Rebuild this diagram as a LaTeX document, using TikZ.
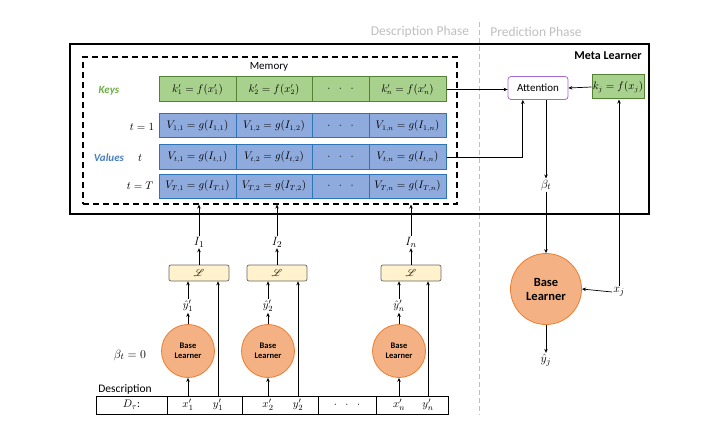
\documentclass[tikz,border=0pt]{standalone}
\usepackage{fontspec}
\setmainfont{Carlito}
\usepackage{amsmath}
\usepackage{amssymb}
\usepackage{mathrsfs}
\usetikzlibrary{calc,backgrounds,arrows.meta}
\definecolor{keyfill}{HTML}{A9D18E}
\definecolor{keyline}{HTML}{548235}
\definecolor{valfill}{HTML}{8FAADC}
\definecolor{valline}{HTML}{2E75B6}
\definecolor{blfill}{HTML}{F4B183}
\definecolor{blline}{HTML}{ED7D31}
\definecolor{lossfill}{HTML}{FFF2CC}
\definecolor{attline}{HTML}{A66BD3}
\definecolor{keytext}{HTML}{70AD47}
\definecolor{valtext}{HTML}{4A7EBB}
\definecolor{phasegray}{HTML}{BFBFBF}
\tikzstyle{lbl}=[
  inner sep=1pt, font=\fontsize{11}{13}\selectfont
]
\tikzstyle{biglbl}=[
  inner sep=1pt, font=\fontsize{12.5}{14}\selectfont
]
\tikzstyle{keycell}=[
  draw=keyline, fill=keyfill, line width=1pt, minimum height=25pt, inner sep=0pt,
  font=\fontsize{10.5}{12}\selectfont
]
\tikzstyle{valcell}=[
  draw=valline, fill=valfill, line width=1pt, minimum height=24pt, inner sep=0pt,
  font=\fontsize{10.5}{12}\selectfont
]
\tikzstyle{baselearner}=[
  draw=blline, fill=blfill, circle, line width=0.8pt, minimum size=53pt, inner sep=0pt,
  align=center, font=\bfseries\fontsize{8.5}{9.5}\selectfont
]
\tikzstyle{bigbaselearner}=[
  baselearner, minimum size=71pt, font=\bfseries\fontsize{12.5}{14}\selectfont
]
\tikzstyle{loss}=[
  draw=gray!80!black, fill=lossfill, rounded corners=2pt, minimum width=60pt,
  minimum height=16pt, inner sep=0pt, line width=0.7pt
]
\tikzstyle{attn}=[
  draw=attline, fill=white, rounded corners=3pt, minimum width=60pt, minimum height=23pt,
  inner sep=0pt, line width=0.8pt, font=\fontsize{11}{13}\selectfont
]
\tikzstyle{dcell}=[
  draw, line width=0.6pt, minimum height=18pt, inner sep=0pt, font=\fontsize{11}{13}\selectfont
]
\tikzstyle{phase}=[
  text=phasegray, inner sep=1pt, font=\fontsize{13.5}{15}\selectfont
]
\tikzstyle{phasesep}=[
  draw=phasegray, line width=1pt, dash pattern=on 5pt off 3pt
]
\tikzstyle{flow}=[
  -{Stealth[length=4pt,width=3.5pt]}, line width=0.7pt
]

\begin{document}
\begin{tikzpicture}[x=1pt,y=-1pt]
  \useasboundingbox (0,0) rectangle (712,433);
  % phases
  \node (desc) at (420,32) [phase] {Description Phase};
  \node (pred) at (536,32) [phase] {Prediction Phase};
  \coordinate (divtop) at (479,22);
  \coordinate (divbot) at (479,415);
  \draw [phasesep] (divtop) -- (divbot);

  % meta learner and memory
  \node (meta) at (359.5,129) [draw, line width=1.2pt, minimum width=579pt, minimum height=170pt] {};
  \node (metalbl) at (608,56) [inner sep=1pt, font=\bfseries\fontsize{12}{14}\selectfont] {Meta Learner};
  \node (mem) at (270,130.5) [draw, line width=1.2pt, dash pattern=on 6pt off 4pt, minimum width=374pt, minimum height=147pt] {};
  \node (memlbl) at (269,67) [lbl] {Memory};

  \node (keys) at (109,91) [lbl, text=keytext, font=\bfseries\itshape\fontsize{11}{13}\selectfont] {Keys};
  \node (values) at (109,158) [lbl, text=valtext, font=\bfseries\itshape\fontsize{11}{13}\selectfont] {Values};
  \node (t1) at (142,127) [lbl] {$t = 1$};
  \node (tt) at (140,158) [lbl] {$t$};
  \node (tT) at (140,186) [lbl] {$t = T$};

  \node (k1) at (197.5,89.5) [keycell, minimum width=77pt] {$k'_1 = f(x'_1)$};
  \node (k2) at (274,89.5) [keycell, minimum width=76pt] {$k'_2 = f(x'_2)$};
  \node (kd) at (340.5,89.5) [keycell, minimum width=57pt] {$\cdot\;\;\cdot\;\;\cdot$};
  \node (kn) at (407.5,89.5) [keycell, minimum width=77pt] {$k'_n = f(x'_n)$};

  \foreach \r/\y in {1/126, t/157, T/186} {
    \node (v\r1) at (197.5,\y) [valcell, minimum width=77pt] {$V_{\r,1} = g(I_{\r,1})$};
    \node (v\r2) at (274,\y) [valcell, minimum width=76pt] {$V_{\r,2} = g(I_{\r,2})$};
    \node (v\r d) at (340.5,\y) [valcell, minimum width=57pt] {$\cdot\;\;\cdot\;\;\cdot$};
    \node (v\r n) at (407.5,\y) [valcell, minimum width=77pt] {$V_{\r,n} = g(I_{\r,n})$};
  }

  % prediction side
  \node (att) at (538,88) [attn] {Attention};
  \node (kj) at (618,87) [keycell, minimum width=52pt, minimum height=24pt] {$k_j = f(x_j)$};
  \node (beta) at (546,185) [biglbl] {$\beta_t$};
  \node (bl) at (546,289) [bigbaselearner] {Base\\Learner};
  \node (xj) at (619,292) [biglbl] {$x_j$};
  \node (yhat) at (546,360) [biglbl] {$\hat{y}_j$};

  \draw [flow] (kn.east) -- (kn.east -| att.west);
  \draw [flow] (kj.west) -- (att.east);
  \draw [flow] (vtn.east) -| ($(att.south west)!0.25!(att.south east)$);
  \draw [flow] (beta.north |- att.south) -- (beta.north);
  \draw [flow] (beta.south) -- (bl.north);
  \draw [flow] (xj.north) -- (xj.north |- kj.south);
  \draw [flow] (xj.west) -- (bl.east);
  \draw [flow] (bl.south) -- (yhat.north);

  % description side
  \node (betazero) at (130,355) [biglbl] {$\beta_t = 0$};
  \node (desclbl) at (125,389) [lbl, font=\fontsize{11.5}{13}\selectfont] {Description};
  \node (d0) at (131.5,405) [dcell, minimum width=71pt] {$D_\tau$:};
  \node (d1) at (204.5,405) [dcell, minimum width=75pt] {};
  \node (d2) at (280,405) [dcell, minimum width=76pt] {};
  \node (dd) at (347,405) [dcell, minimum width=58pt] {$\cdot\;\;\cdot\;\;\cdot$};
  \node (dn) at (412,405) [dcell, minimum width=72pt] {};

  \foreach \k/\xx/\yy/\lx in {1/188/218/199, 2/268/298/277, n/399/428/411} {
    \node (bl\k) at (\xx,351) [baselearner] {Base\\Learner};
    \node (yh\k) at (\xx,306) [lbl] {$\hat{y}'_{\k}$};
    \node (loss\k) at (\lx,273) [loss] {$\mathscr{L}$};
    \node (i\k) at (\lx,242) [biglbl] {$I_{\k}$};
    \node (x\k) at (\xx,405) [lbl] {$x'_{\k}$};
    \node (y\k) at (\yy,405) [lbl] {$y'_{\k}$};
    \draw [flow] (x\k |- d1.north) -- (bl\k.south);
    \draw [flow] (bl\k.north) -- (yh\k.south);
    \draw [flow] (yh\k.north) -- (yh\k.north |- loss\k.south);
    \draw [flow] (y\k |- d1.north) -- (y\k |- loss\k.south);
    \draw [flow] (loss\k.north) -- (i\k.south);
    \draw [flow] (i\k.north) -- (i\k.north |- mem.south);
  }
\end{tikzpicture}
\end{document}
